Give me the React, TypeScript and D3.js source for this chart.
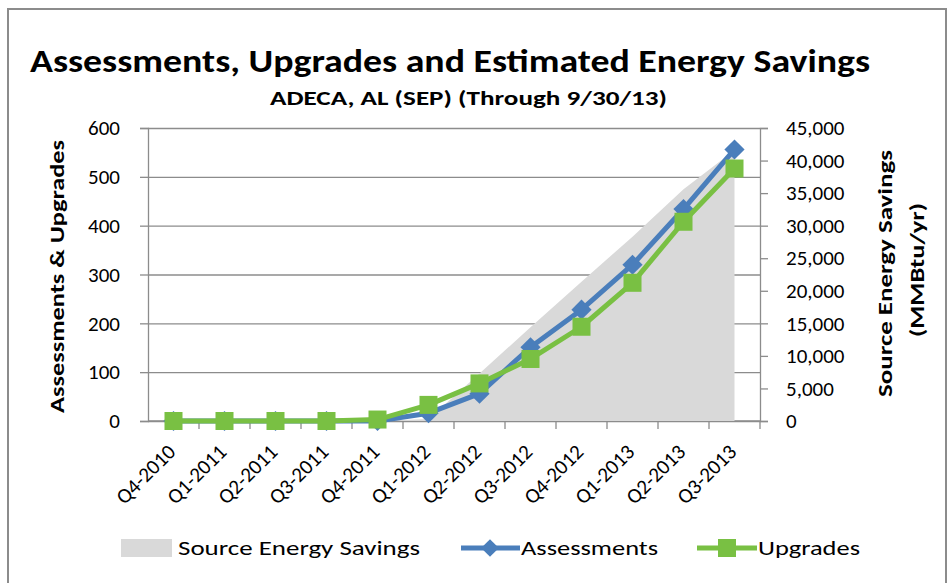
import React, { useEffect, useRef } from "react";
import * as d3 from "d3";

const categories = [
  "Q4-2010", "Q1-2011", "Q2-2011", "Q3-2011", "Q4-2011", "Q1-2012",
  "Q2-2012", "Q3-2012", "Q4-2012", "Q1-2013", "Q2-2013", "Q3-2013",
];
const assessments = [0, 0, 0, 0, 0, 16, 56, 151, 228, 320, 434, 556];
const upgrades = [0, 0, 0, 0, 3, 33, 77, 127, 193, 283, 408, 517];
const energySavings = [0, 0, 0, 0, 0, 300, 7300, 14400, 21400, 28300, 35600, 41600];
const leftTicks = [0, 100, 200, 300, 400, 500, 600];
const rightTicks = [0, 5000, 10000, 15000, 20000, 25000, 30000, 35000, 40000, 45000];

const FONT = "Carlito, Lato, 'Open Sans', sans-serif";
const BLUE = "#4A7EBB";
const GREEN = "#79C043";
const GRAY = "#D9D9D9";

function App() {
  const svgRef = useRef<SVGSVGElement | null>(null);

  useEffect(() => {
    const svg = d3.select(svgRef.current);
    svg.selectAll("*").remove();

    const width = 952;
    const height = 583;
    const margin = { left: 148, right: 192, top: 128, bottom: 162 };

    svg.attr("width", width).attr("height", height).style("font-family", FONT);

    svg.append("rect").attr("width", width).attr("height", height).attr("fill", "#fff");
    svg
      .append("rect")
      .attr("x", 8)
      .attr("y", 9)
      .attr("width", 938)
      .attr("height", 610)
      .attr("fill", "none")
      .attr("stroke", "#8c8c8c")
      .attr("stroke-width", 2);

    const x = d3
      .scaleBand()
      .domain(categories)
      .range([margin.left, width - margin.right])
      .padding(0);
    const cx = (c: string) => (x(c) as number) + x.bandwidth() / 2;

    const yL = d3.scaleLinear().domain([0, 600]).range([421, margin.top]);
    const yR = d3.scaleLinear().domain([0, 45000]).range([421, margin.top]);

    const axes = svg.append("g");
    const content = svg.append("g");

    // gridlines
    axes
      .append("g")
      .attr("transform", `translate(${margin.left},0)`)
      .call(
        d3
          .axisLeft(yL)
          .tickValues(leftTicks)
          .tickSize(-(width - margin.left - margin.right))
          .tickFormat(() => "")
      )
      .call((g) => g.select(".domain").remove())
      .call((g) => g.selectAll("line").attr("stroke", "#8c8c8c").attr("stroke-width", 1.3));

    // left axis
    axes
      .append("g")
      .attr("transform", `translate(${margin.left},0)`)
      .call(d3.axisLeft(yL).tickValues(leftTicks).tickSize(8).tickPadding(20).tickFormat(d3.format("d")))
      .call((g) => g.select(".domain").attr("stroke", "#8c8c8c").attr("stroke-width", 1.3))
      .call((g) => g.selectAll("line").attr("stroke", "#8c8c8c").attr("stroke-width", 1.3))
      .call((g) =>
        g.selectAll("text").attr("font-size", 21).attr("fill", "#000").style("font-family", FONT)
      );

    // right axis
    axes
      .append("g")
      .attr("transform", `translate(${width - margin.right},0)`)
      .call(d3.axisRight(yR).tickValues(rightTicks).tickSize(8).tickPadding(18).tickFormat(d3.format(",")))
      .call((g) => g.select(".domain").attr("stroke", "#8c8c8c").attr("stroke-width", 1.3))
      .call((g) => g.selectAll("line").attr("stroke", "#8c8c8c").attr("stroke-width", 1.3))
      .call((g) =>
        g.selectAll("text").attr("font-size", 21).attr("fill", "#000").style("font-family", FONT)
      );

    // bottom axis with ticks at category boundaries
    const xAxis = axes.append("g");
    xAxis
      .append("line")
      .attr("x1", margin.left)
      .attr("x2", width - margin.right)
      .attr("y1", yL(0))
      .attr("y2", yL(0))
      .attr("stroke", "#8c8c8c")
      .attr("stroke-width", 1.3);
    xAxis
      .selectAll("line.tick")
      .data(categories)
      .join("line")
      .attr("class", "tick")
      .attr("x1", (d) => (x(d) as number) + x.bandwidth())
      .attr("x2", (d) => (x(d) as number) + x.bandwidth())
      .attr("y1", yL(0))
      .attr("y2", yL(0) + 8)
      .attr("stroke", "#8c8c8c")
      .attr("stroke-width", 1.3);
    xAxis
      .selectAll("text")
      .data(categories)
      .join("text")
      .attr("transform", (d) => `translate(${cx(d) - 2},${yL(0) + 27}) rotate(-45)`)
      .attr("text-anchor", "end")
      .attr("dy", "0.35em")
      .attr("font-size", 21)
      .attr("fill", "#000")
      .text((d) => d);

    // area (right axis)
    const area = d3
      .area<number>()
      .x((_, i) => cx(categories[i]))
      .y0(yR(0))
      .y1((d) => yR(d));
    content.append("path").attr("d", area(energySavings)).attr("fill", GRAY);

    const line = d3
      .line<number>()
      .x((_, i) => cx(categories[i]))
      .y((d) => yL(d));

    content
      .append("path")
      .attr("d", line(assessments))
      .attr("fill", "none")
      .attr("stroke", BLUE)
      .attr("stroke-width", 5)
      .attr("stroke-linejoin", "round");
    content
      .selectAll("path.diamond")
      .data(assessments)
      .join("path")
      .attr("class", "diamond")
      .attr("transform", (d, i) => `translate(${cx(categories[i])},${yL(d)})`)
      .attr("d", d3.symbol(d3.symbolDiamond2, 260)())
      .attr("fill", BLUE);

    content
      .append("path")
      .attr("d", line(upgrades))
      .attr("fill", "none")
      .attr("stroke", GREEN)
      .attr("stroke-width", 5)
      .attr("stroke-linejoin", "round");
    content
      .selectAll("rect.square")
      .data(upgrades)
      .join("rect")
      .attr("class", "square")
      .attr("x", (d, i) => cx(categories[i]) - 9)
      .attr("y", (d) => yL(d) - 9)
      .attr("width", 18)
      .attr("height", 18)
      .attr("fill", GREEN);

    // titles
    svg
      .append("text")
      .attr("x", 30)
      .attr("y", 72)
      .attr("textLength", 840)
      .attr("lengthAdjust", "spacingAndGlyphs")
      .attr("font-size", 32)
      .attr("font-weight", "bold")
      .text("Assessments, Upgrades and Estimated Energy Savings");
    svg
      .append("text")
      .attr("x", 270)
      .attr("y", 105)
      .attr("textLength", 397)
      .attr("lengthAdjust", "spacingAndGlyphs")
      .attr("font-size", 21)
      .attr("font-weight", "bold")
      .text("ADECA, AL (SEP) (Through 9/30/13)");

    // axis titles
    svg
      .append("text")
      .attr("transform", `translate(64,${(140 + 413) / 2}) rotate(-90)`)
      .attr("text-anchor", "middle")
      .attr("textLength", 273)
      .attr("lengthAdjust", "spacingAndGlyphs")
      .attr("font-size", 21)
      .attr("font-weight", "bold")
      .text("Assessments & Upgrades");
    svg
      .append("text")
      .attr("transform", `translate(892,${(150 + 397) / 2}) rotate(-90)`)
      .attr("text-anchor", "middle")
      .attr("textLength", 247)
      .attr("lengthAdjust", "spacingAndGlyphs")
      .attr("font-size", 21)
      .attr("font-weight", "bold")
      .text("Source Energy Savings");
    svg
      .append("text")
      .attr("transform", `translate(924,${(203 + 337) / 2}) rotate(-90)`)
      .attr("text-anchor", "middle")
      .attr("textLength", 134)
      .attr("lengthAdjust", "spacingAndGlyphs")
      .attr("font-size", 21)
      .attr("font-weight", "bold")
      .text("(MMBtu/yr)");

    // legend
    const legend = svg.append("g").attr("transform", "translate(0,548)");
    legend.append("rect").attr("x", 121).attr("y", -9).attr("width", 51).attr("height", 18).attr("fill", GRAY);
    legend
      .append("text")
      .attr("x", 178)
      .attr("dy", "0.35em")
      .attr("font-size", 21)
      .attr("textLength", 242)
      .attr("lengthAdjust", "spacingAndGlyphs")
      .text("Source Energy Savings");

    legend.append("line").attr("x1", 461).attr("x2", 520).attr("stroke", BLUE).attr("stroke-width", 5);
    legend
      .append("path")
      .attr("transform", "translate(490,0)")
      .attr("d", d3.symbol(d3.symbolDiamond2, 200)())
      .attr("fill", BLUE);
    legend
      .append("text")
      .attr("x", 521)
      .attr("dy", "0.35em")
      .attr("font-size", 21)
      .attr("textLength", 137)
      .attr("lengthAdjust", "spacingAndGlyphs")
      .text("Assessments");

    legend.append("line").attr("x1", 697).attr("x2", 757).attr("stroke", GREEN).attr("stroke-width", 5);
    legend.append("rect").attr("x", 718).attr("y", -9).attr("width", 18).attr("height", 18).attr("fill", GREEN);
    legend
      .append("text")
      .attr("x", 758)
      .attr("dy", "0.35em")
      .attr("font-size", 21)
      .attr("textLength", 102)
      .attr("lengthAdjust", "spacingAndGlyphs")
      .text("Upgrades");
  }, []);

  return (
    <div style={{ position: "absolute", left: 0, top: 0 }}>
      <svg ref={svgRef} style={{ display: "block" }}></svg>
    </div>
  );
}

export default App;
